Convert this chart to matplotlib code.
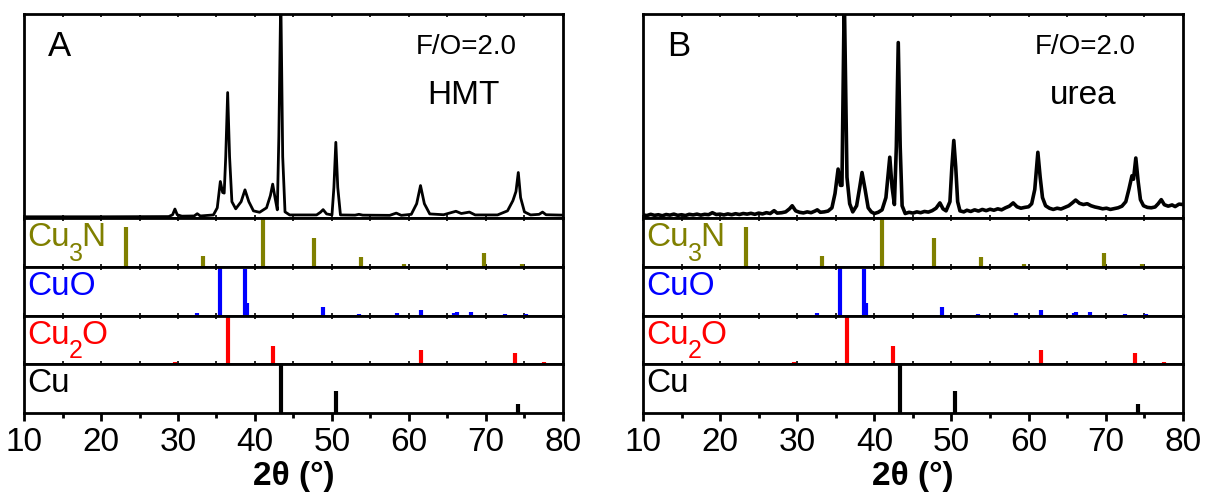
"""XRD patterns of copper nitride films (F/O=2.0, HMT vs urea) with reference sticks."""

import matplotlib.pyplot as plt
from matplotlib.ticker import MultipleLocator

plt.rcParams["font.family"] = ["Liberation Sans", "DejaVu Sans"]
plt.rcParams["mathtext.default"] = "regular"

# measured pattern, panel A (HMT)
hmt_theta = [10.0, 20.0, 28.8, 29.3, 29.6, 29.9, 30.5, 32.1, 32.5, 32.9, 34.6, 35.1,
             35.5, 35.8, 36.0, 36.2, 36.45, 36.7, 37.0, 37.5, 38.2, 38.7, 39.2, 39.8,
             40.6, 41.5, 42.0, 42.3, 42.6, 42.9, 43.1, 43.35, 43.6, 43.9, 44.5, 48.0,
             48.5, 48.85, 49.3, 50.0, 50.25, 50.5, 50.75, 51.1, 53.0, 53.5, 54.0, 57.5,
             58.35, 59.0, 60.3, 61.0, 61.5, 62.0, 62.7, 64.5, 66.1, 66.8, 67.85, 68.6,
             71.5, 72.8, 73.5, 73.9, 74.2, 74.5, 75.0, 75.8, 76.9, 77.35, 77.8, 80.0]
hmt_int = [0.6, 0.6, 0.7, 1.6, 4.4, 1.6, 0.9, 1.0, 2.1, 1.0, 1.5, 5.0,
           17.9, 12.5, 12.2, 30.0, 61.5, 30.0, 8.0, 4.5, 8.0, 13.8, 8.0, 3.5,
           2.8, 5.0, 11.0, 16.6, 10.0, 4.0, 40.0, 110.0, 30.0, 3.0, 1.5, 1.5,
           2.8, 4.1, 2.0, 1.5, 15.0, 37.1, 15.0, 1.5, 1.4, 1.8, 1.4, 1.3,
           2.4, 1.3, 1.8, 7.0, 15.9, 7.0, 2.0, 1.6, 3.3, 2.2, 2.9, 1.5,
           1.5, 3.5, 8.5, 13.0, 22.3, 10.0, 3.0, 1.5, 1.8, 2.9, 1.6, 1.4]

# measured pattern, panel B (urea)
urea_theta = [10.0, 10.5, 11.0, 11.5, 12.0, 12.5, 13.0, 13.5, 14.0, 14.5, 15.0, 15.5,
              16.0, 16.5, 17.0, 17.5, 18.0, 18.5, 19.0, 19.5, 20.0, 20.5, 21.0, 21.5,
              22.0, 22.5, 23.0, 23.5, 24.0, 24.5, 25.0, 25.5, 26.0, 26.5, 27.0, 27.4,
              28.0, 28.5, 29.0, 29.35, 29.8, 30.3, 30.8, 31.3, 31.8, 32.3, 32.6, 33.0,
              33.5, 34.0, 34.5, 34.9, 35.3, 35.6, 35.8, 36.1, 36.45, 36.8, 37.2, 37.7,
              38.1, 38.4, 38.8, 39.2, 39.6, 40.0, 40.5, 41.0, 41.5, 42.0, 42.3, 42.6,
              42.85, 43.1, 43.35, 43.6, 44.0, 44.5, 45.0, 45.5, 46.0, 46.5, 47.0, 47.5,
              48.0, 48.5, 48.9, 49.3, 49.8, 50.05, 50.3, 50.55, 50.8, 51.1, 51.6, 52.0,
              52.5, 53.0, 53.5, 54.0, 54.5, 55.0, 55.5, 56.0, 56.5, 57.0, 57.5, 58.0,
              58.5, 59.0, 59.5, 60.0, 60.4, 60.8, 61.2, 61.5, 61.8, 62.2, 62.7, 63.2,
              63.7, 64.2, 64.7, 65.2, 65.7, 66.1, 66.6, 67.1, 67.6, 68.1, 68.6, 69.1,
              69.6, 70.1, 70.6, 71.1, 71.6, 72.1, 72.6, 73.0, 73.4, 73.6, 73.9, 74.2,
              74.5, 74.9, 75.4, 75.9, 76.4, 76.8, 77.2, 77.6, 78.1, 78.6, 79.0, 79.5,
              80.0]
urea_int = [1.5, 1.2, 1.8, 1.3, 1.6, 1.1, 1.7, 1.4, 1.9, 1.3, 1.6, 1.2,
            1.8, 1.5, 1.9, 1.4, 1.8, 1.6, 2.6, 1.7, 1.9, 1.5, 2.0, 1.6,
            2.1, 1.7, 2.2, 1.9, 2.3, 1.8, 2.4, 2.0, 2.6, 2.2, 3.6, 2.4,
            2.6, 3.0, 4.5, 6.0, 3.5, 2.8, 2.5, 3.0, 2.6, 3.4, 4.0, 2.8,
            3.0, 3.4, 5.0, 12.0, 24.0, 16.0, 16.0, 110.0, 20.0, 7.0, 3.0, 6.0,
            15.0, 22.3, 14.0, 5.0, 3.0, 2.2, 2.8, 4.0, 10.0, 29.8, 15.0, 6.6,
            35.0, 86.0, 35.0, 6.0, 2.2, 2.8, 2.4, 3.0, 2.6, 3.2, 2.9, 3.6,
            4.8, 7.4, 4.5, 3.5, 8.0, 25.0, 38.0, 25.0, 8.0, 3.5, 3.0, 3.8,
            3.2, 4.0, 3.4, 4.2, 3.6, 4.3, 3.8, 4.5, 4.0, 5.0, 5.8, 7.4,
            5.5, 4.8, 5.2, 5.5, 7.0, 14.0, 32.2, 20.0, 10.0, 6.0, 4.8, 4.2,
            4.8, 4.4, 5.2, 6.0, 7.5, 8.8, 7.2, 6.6, 7.0, 6.0, 5.4, 5.0,
            4.5, 4.8, 4.2, 4.6, 5.0, 5.8, 8.0, 14.0, 20.7, 19.0, 29.4, 18.0,
            9.0, 6.0, 5.2, 5.0, 5.4, 7.0, 9.0, 6.5, 5.8, 6.4, 5.6, 6.8,
            6.6]

# reference patterns (relative intensity)
cu3n_pos = [23.3, 33.2, 41.0, 47.7, 53.8, 59.4, 69.8, 74.7, 79.6]
cu3n_int = [0.81, 0.23, 1.05, 0.60, 0.21, 0.06, 0.28, 0.07, 0.03]
cuo_pos = [32.5, 35.5, 38.7, 38.9, 46.4, 48.8, 51.4, 53.5, 58.4, 61.6, 65.9, 66.2, 68.0, 72.5, 75.2]
cuo_int = [0.07, 1.05, 0.95, 0.27, 0.01, 0.18, 0.01, 0.05, 0.07, 0.13, 0.07, 0.09, 0.09, 0.04, 0.05]
cu2o_pos = [29.6, 36.5, 42.4, 52.6, 61.6, 65.9, 73.8, 77.6]
cu2o_int = [0.04, 1.05, 0.37, 0.01, 0.30, 0.01, 0.23, 0.05]
cu_pos = [43.35, 50.5, 74.2]
cu_int = [1.05, 0.44, 0.18]

references = [
    ("Cu", "3", "N", "#808000", cu3n_pos, cu3n_int),
    ("CuO", "", "", "#0000ff", cuo_pos, cuo_int),
    ("Cu", "2", "O", "#ff0000", cu2o_pos, cu2o_int),
    ("Cu", "", "", "black", cu_pos, cu_int),
]

panels = [
    ("A", "HMT", hmt_theta, hmt_int, 0.0199, 0.4465, 2.0),
    ("B", "urea", urea_theta, urea_int, 0.5327, 0.4473, 2.6),
]

W, H = 1207, 492
row_edges = [14, 218, 267, 316, 364, 413]  # pixel rows of the stacked axes

fig = plt.figure(figsize=(W / 100, H / 100), dpi=100)


def style_axis(ax, last):
    ax.set_xlim(10, 80)
    ax.xaxis.set_major_locator(MultipleLocator(10))
    ax.xaxis.set_minor_locator(MultipleLocator(5))
    ax.set_yticks([])
    for sp in ax.spines.values():
        sp.set_linewidth(2.0)
    if last:
        ax.tick_params(axis="x", which="major", direction="out", length=6, width=2,
                       labelsize=24, pad=4)
        ax.tick_params(axis="x", which="minor", direction="out", length=3.5, width=2)
    else:
        ax.tick_params(axis="x", which="both", direction="in", length=2.5, width=1.2,
                       top=True, labelbottom=False)


def phase_label(ax, base, sub, tail, color):
    # name with a deep subscript, as in the original figure
    t = ax.text(0.006, 0.6, base, transform=ax.transAxes, fontsize=24,
                color=color, ha="left", va="center")
    if not sub:
        return
    fig.canvas.draw()
    bb = t.get_window_extent().transformed(ax.transAxes.inverted())
    s = ax.text(bb.x1 - 0.002, 0.27, sub, transform=ax.transAxes, fontsize=18,
                color=color, ha="left", va="center")
    bb2 = s.get_window_extent().transformed(ax.transAxes.inverted())
    ax.text(bb2.x1 - 0.002, 0.6, tail, transform=ax.transAxes, fontsize=24,
            color=color, ha="left", va="center")


for letter, tag, theta, inten, left, width, lw in panels:
    n = len(row_edges) - 1
    for i in range(n):
        top_px, bot_px = row_edges[i], row_edges[i + 1]
        ax = fig.add_axes([left, 1 - bot_px / H, width, (bot_px - top_px) / H])
        last = i == n - 1
        style_axis(ax, last)
        if i == 0:
            ax.plot(theta, inten, color="black", lw=lw, solid_joinstyle="round")
            ax.set_ylim(0, 100)
            ax.text(0.045, 0.84, letter, transform=ax.transAxes, fontsize=25,
                    ha="left", va="center")
            ax.text(0.82, 0.84, "F/O=2.0", transform=ax.transAxes, fontsize=20,
                    ha="center", va="center")
            ax.text(0.815, 0.6, tag, transform=ax.transAxes, fontsize=24,
                    ha="center", va="center")
        else:
            base, sub, tail, color, pos, hts = references[i - 1]
            ax.vlines(pos, 0, hts, color=color, lw=3)
            ax.set_ylim(0, 1)
            phase_label(ax, base, sub, tail, color)
        if last:
            ax.set_xlabel("2θ (°)", fontsize=24, fontweight="bold", labelpad=2)

fig.savefig("out.png", dpi=100)
